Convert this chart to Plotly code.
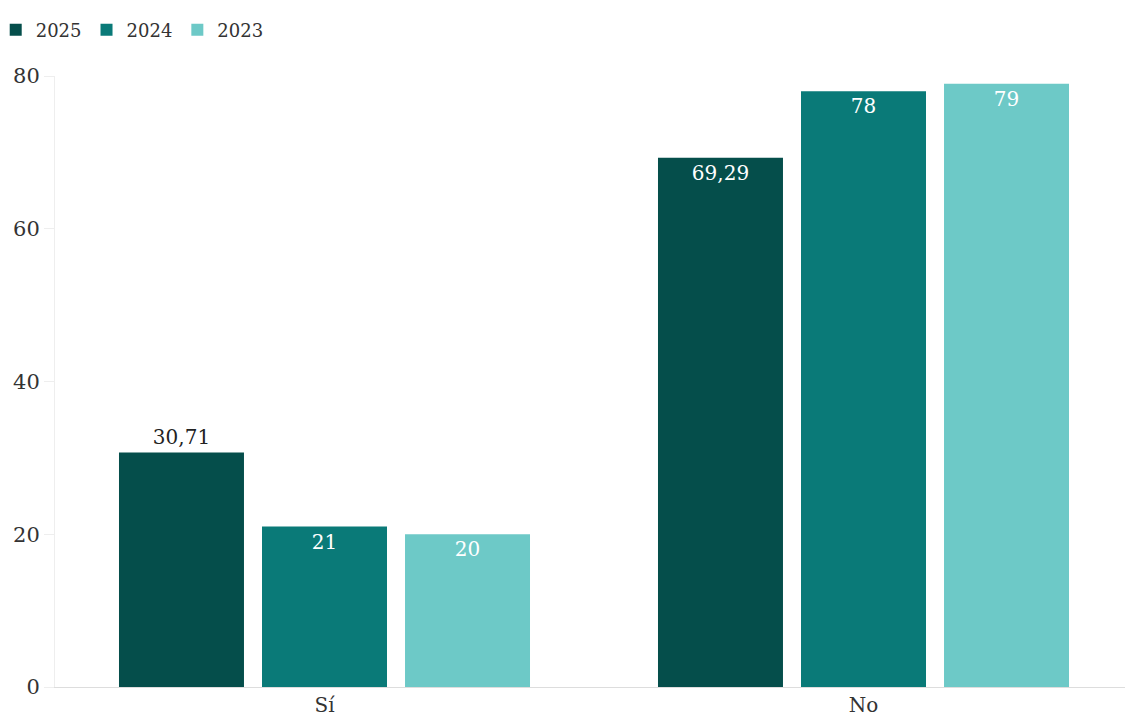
import plotly.graph_objects as go

categories = ["Sí", "No"]
series_names = ["2025", "2024", "2023"]
values_2025 = [30.71, 69.29]
values_2024 = [21, 78]
values_2023 = [20, 79]
labels_2025 = ["30,71", "69,29"]
labels_2024 = ["21", "78"]
labels_2023 = ["20", "79"]
y_ticks = [0, 20, 40, 60, 80]

colors = ["#054e4b", "#0a7a78", "#6dc9c7"]
font_family = "DejaVu Serif, serif"

fig = go.Figure()
data = [(values_2025, labels_2025), (values_2024, labels_2024), (values_2023, labels_2023)]
for name, (vals, labs), col in zip(series_names, data, colors):
    positions = ["outside", "inside"] if name == "2025" else ["inside", "inside"]
    fig.add_trace(go.Bar(
        name=name, x=categories, y=vals, text=labs,
        textposition=positions,
        insidetextanchor="end",
        marker=dict(color=col, line=dict(width=0)),
        textfont=dict(family=font_family, size=20),
        insidetextfont=dict(color="white", family=font_family, size=20),
        outsidetextfont=dict(color="#222222", family=font_family, size=20),
        cliponaxis=False,
    ))

fig.update_layout(
    width=1125, height=715,
    barmode="group", bargap=0.204, bargroupgap=0.126,
    plot_bgcolor="white", paper_bgcolor="white",
    margin=dict(l=47, r=0, t=68, b=36, autoexpand=False),
    font=dict(family=font_family, size=20, color="#333333"),
    legend=dict(orientation="h", xref="paper", yref="container",
                x=-0.055, y=0.969, xanchor="left", yanchor="middle",
                font=dict(size=18, color="#333333"),
                itemwidth=30, tracegroupgap=0, traceorder="normal"),
    uniformtext=dict(mode=False),
)
fig.update_yaxes(range=[0, 80], tickvals=y_ticks, showgrid=False,
                 showline=True, linecolor="#eeeeee", linewidth=1,
                 ticks="outside", ticklen=10, tickcolor="#eeeeee",
                 zeroline=False, automargin=False,
                 tickfont=dict(size=21, color="#333333"))
fig.update_xaxes(showline=True, linecolor="#dddddd", linewidth=1,
                 ticks="", automargin=False,
                 tickfont=dict(size=20, color="#333333"))

fig.write_html("out.html")
